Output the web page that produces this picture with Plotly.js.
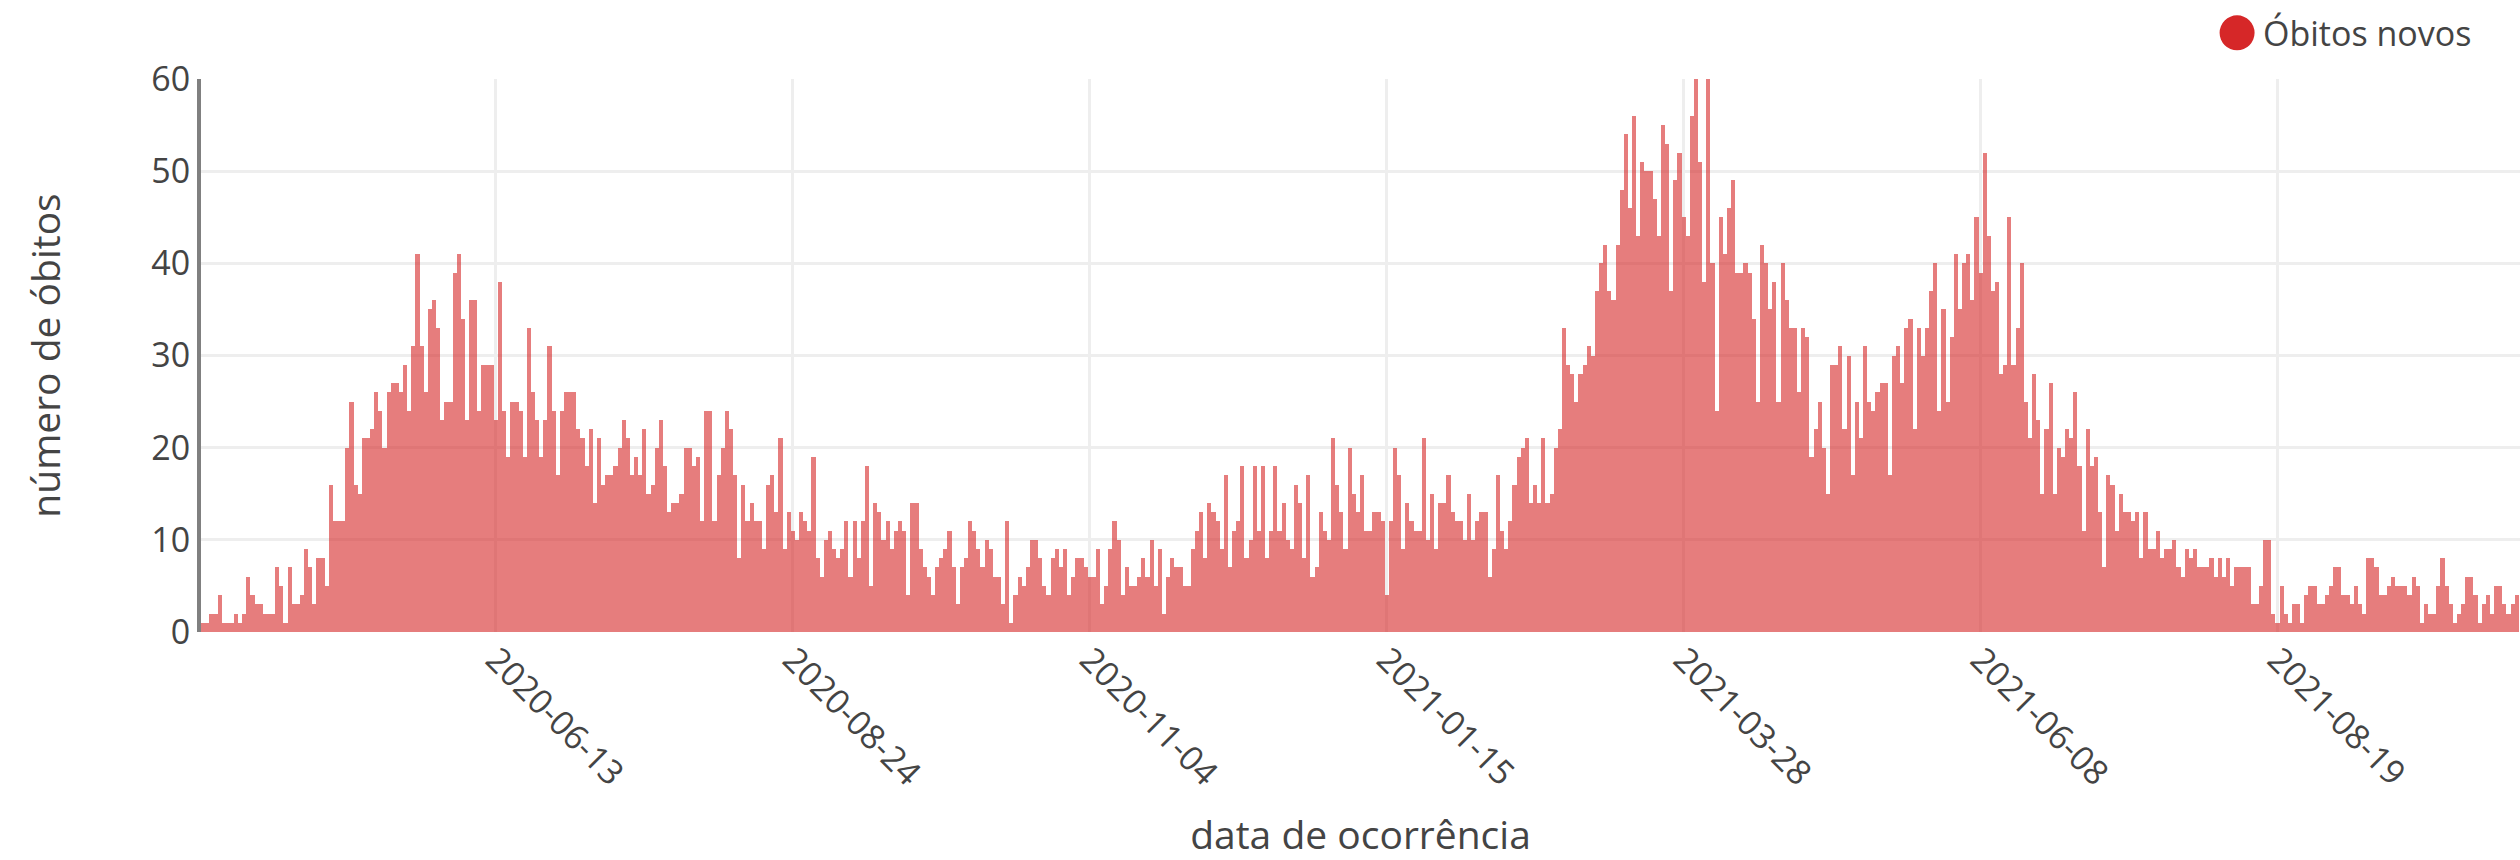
<!DOCTYPE html>
<html>
<head>
<meta charset="utf-8">
<script src="https://cdn.plot.ly/plotly-3.0.1.min.js"></script>
<style>
html, body { margin: 0; padding: 0; background: #ffffff; }
#chart { width: 2520px; height: 860px; }
</style>
</head>
<body>
<div id="chart"></div>
<script>
// ---- data (daily new deaths) ----
const firstDate = [2020, 3, 3]; // 2020-04-03 (month is 0-based)

const deathsApr2020toJul2020 = [1,1,2,2,4,1,1,1,2,1, 2,6,4,3,3,2,2,2,7,5, 1,7,3,3,4,9,7,3,8,8,
  5,16,12,12,12,20,25,16,15,21, 21,22,26,24,20,26,27,27,26,29, 24,31,41,31,26,35,36,33,23,25,
  25,39,41,34,23,36,36,24,29,29, 29,23,38,24,19,25,25,24,19,33, 26,23,19,23,31,24,17,24,26,26,
  26,22,21,18];

const deathsJul2020toOct2020 = [22,14,21,16,17,17,18,20,23,21, 17,19,17,22,15,16,20,23,18,13,
  14,14,15,20,20,18,19,12,24,24, 12,17,20,24,22,17,8,16,12,14, 12,12,9,16,17,13,21,9,13,11,
  10,13,12,11,19,8,6,10,11,9, 8,9,12,6,12,8,12,18,5,14, 13,10,12,9,11,12,11,4,14,14,
  9,7,6,4,7,8,9,11,7,3, 7,8,12];

const deathsOct2020toJan2021 = [11,9,7,10,9,6,6,3,12,1, 4,6,5,7,10,10,8,5,4,8, 9,7,9,4,6,8,8,7,6,6,
  9,3,5,9,12,10,4,7,5,5, 6,8,6,10,5,9,2,6,8,7, 7,5,5,9,11,13,8,14,13,12, 9,17,7,11,12,18,8,10,18,11,
  18,8,11,18,11,14,10,9,16,14, 8,17,6,7,13,11,10,21,16,13, 9,20,15,13];

const deathsJan2021toApr2021 = [17,11,11,13,13,12,4,12,20,17, 9,14,12,11,11,21,10,15,9,14,
  14,17,13,12,12,10,15,10,12,13, 13,6,9,17,11,9,12,16,19,20, 21,14,16,14,21,14,15,20,22,33,
  29,28,25,28,29,31,30,37,40,42, 37,36,42,48,54,46,56,43,51,50, 50,47,43,55,53,37,49,52,45,43,
  56,60,51,38,60,40,24,45,41,46, 49,39,39];

const deathsApr2021toJul2021 = [40,39,34,25,42,40,35,38,25,40, 36,33,33,26,33,32,19,22,25,20,
  15,29,29,31,22,30,17,25,21,31, 25,24,26,27,27,17,30,31,27,33, 34,22,33,30,33,37,40,24,35,25,
  32,41,35,40,41,36,45,39,52,43, 37,38,28,29,45,29,33,40,25,21, 28,23,15,22,27,15,20,19,22,21,
  26,18,11,22,18,19,13,7,17,16, 11,15,13,13];

const deathsJul2021toOct2021 = [12,13,8,13,9,9,11,8,9,9, 10,7,6,9,8,9,7,7,7,8, 6,8,6,8,5,7,7,7,7,3,
  3,5,10,10,2,1,5,2,1,3, 3,1,4,5,5,3,3,4,5,7, 7,4,4,3,5,3,2,8,8,7, 4,4,5,6,5,5,5,4,6,5,
  1,3,2,2,5,8,5,3,1,2, 3,6,6,4,1,3,4,2,5,5, 3,2,3,4];

const seriesName = 'Óbitos novos';
const xTickDates = ['2020-06-13', '2020-08-24', '2020-11-04', '2021-01-15', '2021-03-28', '2021-06-08', '2021-08-19'];
const yTickValues = [0, 10, 20, 30, 40, 50, 60];
const xTitleText = 'data de ocorrência';
const yTitleText = 'número de óbitos';

// ---- build ----
const deaths = [].concat(deathsApr2020toJul2020, deathsJul2020toOct2020, deathsOct2020toJan2021,
  deathsJan2021toApr2021, deathsApr2021toJul2021, deathsJul2021toOct2021);
const DAY = 86400000;
const t0 = Date.UTC(firstDate[0], firstDate[1], firstDate[2]);
const dates = deaths.map((v, i) => new Date(t0 + i * DAY).toISOString().slice(0, 10));
const fmt = ms => new Date(ms).toISOString().replace('T', ' ').replace('Z', '');
const xRange = [fmt(t0 - 0.5 * DAY), fmt(t0 + (deaths.length - 0.2) * DAY)];

const FONT = '"Open Sans", verdana, arial, sans-serif';

const trace = {
  type: 'bar',
  x: dates,
  y: deaths,
  name: seriesName,
  marker: { color: '#d62728', line: { width: 0 } },
  opacity: 0.6,
  showlegend: false,
  hoverinfo: 'x+y'
};

const layout = {
  width: 2520,
  height: 860,
  margin: { l: 201, r: 0, t: 79, b: 228, pad: 0 },
  paper_bgcolor: '#ffffff',
  plot_bgcolor: '#ffffff',
  font: { family: FONT, color: '#444444', size: 34 },
  bargap: 0,
  showlegend: false,
  xaxis: {
    type: 'date',
    range: xRange,
    tickmode: 'array',
    tickvals: xTickDates,
    ticktext: xTickDates,
    tickangle: 45,
    tickfont: { family: FONT, size: 34, color: '#444444' },
    showgrid: true,
    gridcolor: '#eeeeee',
    gridwidth: 3,
    showline: false,
    zeroline: false,
    ticks: '',
    title: { text: xTitleText, font: { family: FONT, size: 39, color: '#444444' }, standoff: 35 }
  },
  yaxis: {
    range: [0, 60],
    tickmode: 'array',
    tickvals: yTickValues,
    ticktext: yTickValues.map(String),
    tickfont: { family: FONT, size: 34, color: '#444444' },
    showgrid: true,
    gridcolor: '#eeeeee',
    gridwidth: 3,
    showline: true,
    linecolor: '#808080',
    linewidth: 4,
    zeroline: false,
    ticks: '',
    title: { text: yTitleText, font: { family: FONT, size: 39, color: '#444444' }, standoff: 80 }
  },
  annotations: [{
    xref: 'paper', yref: 'paper',
    x: 0.8883, y: 1.0835,
    xanchor: 'left', yanchor: 'middle',
    text: seriesName,
    showarrow: false,
    font: { family: FONT, size: 34, color: '#444444' }
  }],
  shapes: [{
    type: 'circle',
    xref: 'paper', yref: 'paper',
    xsizemode: 'pixel', ysizemode: 'pixel',
    xanchor: 0.878, yanchor: 1.0835,
    x0: -17.5, x1: 17.5, y0: -17.5, y1: 17.5,
    fillcolor: '#d62728',
    line: { width: 0 }
  }]
};

Plotly.newPlot('chart', [trace], layout, { displayModeBar: false, staticPlot: true });
</script>
</body>
</html>
